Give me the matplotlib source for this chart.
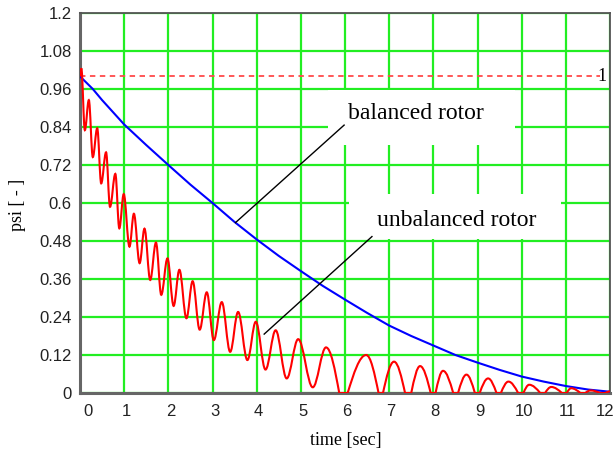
import matplotlib
matplotlib.use("Agg")
import matplotlib.pyplot as plt
from matplotlib.path import Path
from matplotlib.patches import PathPatch, Rectangle
from matplotlib.transforms import ScaledTranslation

# ---------------- data ----------------
x_ticks = [0, 1, 2, 3, 4, 5, 6, 7, 8, 9, 10, 11, 12]
y_ticks = [0, 0.12, 0.24, 0.36, 0.48, 0.6, 0.72, 0.84, 0.96, 1.08, 1.2]
y_tick_labels = ["0", "0.12", "0.24", "0.36", "0.48", "0.6", "0.72", "0.84", "0.96", "1.08", "1.2"]

# balanced rotor (blue)
bal_t = [0, 0.29, 0.5, 1, 1.5, 2, 2.5, 3, 3.5, 4, 4.5, 5, 5.5, 6, 6.5, 7, 7.5, 8,
         8.5, 9, 9.5, 10, 10.5, 11, 11.5, 12]
bal_v = [1.0, 0.96, 0.925, 0.848, 0.783, 0.72, 0.658, 0.6, 0.54, 0.485, 0.433, 0.385,
         0.338, 0.295, 0.253, 0.213, 0.18, 0.15, 0.12, 0.096, 0.073, 0.052, 0.036,
         0.022, 0.011, 0.004]

# unbalanced rotor (red): extrema and zero-contact points
unb_t = [0.0, 0.03, 0.11, 0.2, 0.29, 0.39, 0.48, 0.59, 0.68, 0.8, 0.89, 0.99, 1.12, 1.22,
         1.35, 1.46, 1.59, 1.72, 1.84, 1.98, 2.12, 2.25, 2.41, 2.55, 2.71, 2.87, 3.03,
         3.21, 3.4, 3.58, 3.79, 3.98, 4.2, 4.43, 4.68, 4.94, 5.27, 5.57, 5.87, 6.06,
         6.48, 6.76, 6.86, 7.11, 7.36, 7.5, 7.7, 7.94, 8.05, 8.22, 8.45, 8.56, 8.75,
         8.94, 9.05, 9.24, 9.43, 9.53, 9.7, 9.92, 10.04, 10.17, 10.42, 10.53, 10.67,
         10.91, 11.02, 11.12, 11.33, 11.44, 11.56, 11.78, 11.89, 12.0]
unb_v = [1.0, 1.025, 0.83, 0.925, 0.745, 0.836, 0.662, 0.76, 0.588, 0.692, 0.52, 0.628,
         0.462, 0.566, 0.41, 0.519, 0.357, 0.475, 0.31, 0.425, 0.275, 0.389, 0.236,
         0.353, 0.2, 0.318, 0.167, 0.287, 0.13, 0.256, 0.104, 0.225, 0.074, 0.198,
         0.046, 0.17, 0.018, 0.144, 0.0, 0.0, 0.12, 0.0, 0.0, 0.099, 0.0, 0.0, 0.085,
         0.0, 0.0, 0.07, 0.0, 0.0, 0.058, 0.0, 0.0, 0.046, 0.0, 0.0, 0.036, 0.0, 0.0,
         0.026, 0.0, 0.0, 0.019, 0.0, 0.0, 0.015, 0.0, 0.0, 0.008, 0.0, 0.0, 0.005]

ref_level = 1.0

# ---------------- figure ----------------
fig = plt.figure(figsize=(6.16, 4.53), dpi=100)
ax = fig.add_axes([80 / 616, 1 - 393 / 453, 530 / 616, 380 / 453])
ax.set_xlim(0, 12)
ax.set_ylim(0, 1.2)

GREEN = "#22ee22"
ax.set_axisbelow(True)
ax.set_xticks(x_ticks)
ax.set_yticks(y_ticks)
ax.set_yticklabels(y_tick_labels)
ax.grid(True, color=GREEN, lw=1.6)
ax.tick_params(length=0, labelsize=12, colors="#222222")
ax.tick_params(axis="y", pad=6)
ax.tick_params(axis="x", pad=8)
for lab in ax.get_xticklabels() + ax.get_yticklabels():
    lab.set_family("Liberation Sans")

# small offsets of x tick labels like the reference
for lab, tv in zip(ax.get_xticklabels(), x_ticks):
    dx = 2
    if tv == 0:
        dx = 8
    elif tv == 12:
        dx = -5
    lab.set_transform(lab.get_transform() + ScaledTranslation(dx / 100, 0, fig.dpi_scale_trans))

for side in ["left", "bottom"]:
    ax.spines[side].set_color("#666666")
    ax.spines[side].set_linewidth(2.2)
for side in ["top", "right"]:
    ax.spines[side].set_color("#555555")
    ax.spines[side].set_linewidth(1.3)

# white boxes behind labels
ax.add_patch(Rectangle((5.61, 0.783), 4.23, 0.174, facecolor="white", edgecolor="none", zorder=1.5))
ax.add_patch(Rectangle((6.09, 0.485), 4.8, 0.143, facecolor="white", edgecolor="none", zorder=1.5))

# reference dashed line
ax.plot([0, 11.78], [ref_level, ref_level], color="#ff4a4a", lw=1.3, ls=(0, (3, 2.5)), zorder=2)
ax.text(11.93, ref_level, "1", family="Liberation Serif", fontsize=13, ha="right",
        va="center", zorder=3)

# balanced rotor
ax.plot(bal_t, bal_v, color="#0000ff", lw=1.5, zorder=3)

# unbalanced rotor: smooth path through extrema
verts = [(unb_t[0], unb_v[0])]
codes = [Path.MOVETO]
for i in range(len(unb_t) - 1):
    t0, v0 = unb_t[i], unb_v[i]
    t1, v1 = unb_t[i + 1], unb_v[i + 1]
    dt, dv = t1 - t0, v1 - v0
    if v0 == 0 and v1 == 0:
        verts.append((t1, v1))
        codes.append(Path.LINETO)
        continue
    if v0 == 0:
        c1 = (t0 + 0.33 * dt, v0 + 0.52 * dv)
        c2 = (t1 - 0.36 * dt, v1)
    elif v1 == 0:
        c1 = (t0 + 0.36 * dt, v0)
        c2 = (t1 - 0.33 * dt, v1 - 0.52 * dv)
    else:
        c1 = (t0 + 0.364 * dt, v0)
        c2 = (t1 - 0.364 * dt, v1)
    verts += [c1, c2, (t1, v1)]
    codes += [Path.CURVE4] * 3
ax.add_patch(PathPatch(Path(verts, codes), facecolor="none", edgecolor="#ff0000",
                       lw=1.5, zorder=3))

# annotations
ax.plot([3.52, 5.98], [0.538, 0.846], color="black", lw=1.0, zorder=4)
ax.plot([4.17, 6.61], [0.186, 0.494], color="black", lw=1.0, zorder=4)
ax.text(7.615, 0.883, "balanced rotor", family="Liberation Serif", fontsize=17,
        ha="center", va="center", zorder=5)
ax.text(8.53, 0.546, "unbalanced rotor", family="Liberation Serif", fontsize=17,
        ha="center", va="center", zorder=5)

# axis labels
fig.text(346 / 616, 1 - 441 / 453, "time [sec]", family="Liberation Serif", fontsize=13,
         ha="center", va="center")
fig.text(18 / 616, 1 - 205 / 453, "psi [ - ]", family="Liberation Serif", fontsize=13,
         ha="center", va="center", rotation=90)

fig.savefig("out.png", dpi=100)
